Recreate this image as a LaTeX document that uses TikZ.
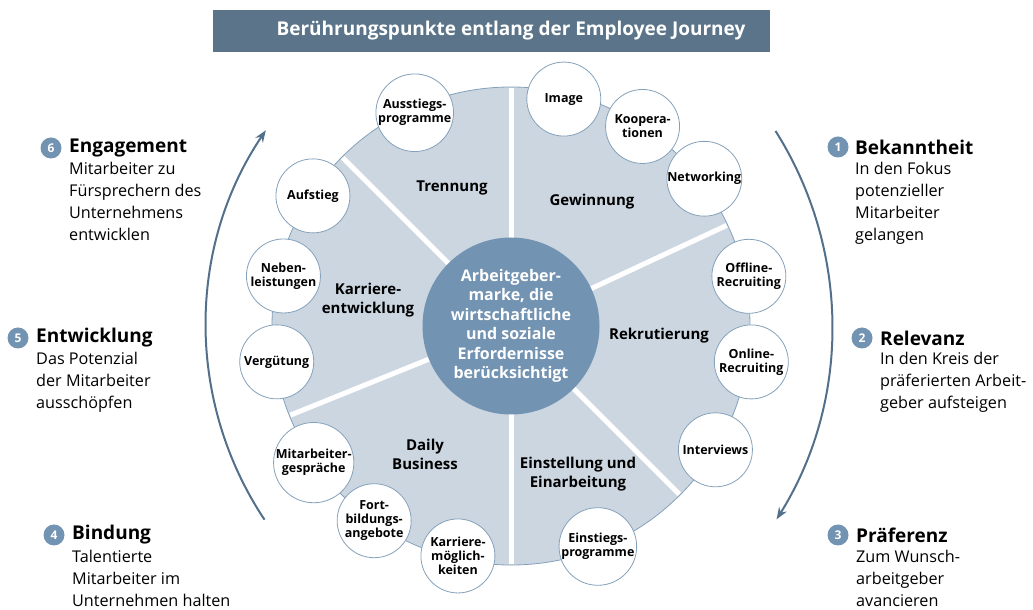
\documentclass[tikz,border=0pt]{standalone}
\usepackage{fontspec}
\setmainfont{Open Sans}
\usetikzlibrary{arrows.meta,positioning}
\definecolor{barblue}{HTML}{5B7489}
\definecolor{discblue}{HTML}{CBD6E1}
\definecolor{hubblue}{HTML}{7293B2}
\definecolor{rimblue}{HTML}{85A1BA}
\definecolor{arcblue}{HTML}{52708A}
\begin{document}
\begin{tikzpicture}[x=1pt,y=1pt,
    touch/.style={circle,draw=rimblue,fill=white,line width=0.8pt,minimum size=74pt,inner sep=0pt,align=center,font=\bfseries\fontsize{12.5}{14}\selectfont},
    phase/.style={align=center,font=\bfseries\fontsize{15}{19}\selectfont},
    divider/.style={draw=white,line width=5pt},
    badge/.style={circle,fill=hubblue,text=white,minimum size=21pt,inner sep=0pt,font=\bfseries\fontsize{12}{12}\selectfont},
    stagehead/.style={anchor=west,inner sep=0pt,font=\bfseries\fontsize{19}{22}\selectfont},
    stagetext/.style={anchor=north west,inner sep=0pt,align=left,font=\fontsize{16.2}{22}\selectfont},
    journey/.style={draw=arcblue,line width=2pt,-{Stealth[length=12pt,width=9pt]}}]
  \useasboundingbox (0,0) rectangle (1033,610);

  % title
  \node[fill=barblue,minimum width=557pt,minimum height=42pt,inner sep=0pt] (bar) at (491.5,579) {};
  \node[text=white,font=\bfseries\fontsize{19}{22}\selectfont] (title) at (511,579) {Berührungspunkte entlang der Employee Journey};

  % disc and sectors
  \coordinate (hubc) at (511,284);
  \fill[discblue,draw=rimblue,line width=0.8pt] (hubc) circle[radius=239];
  \foreach \a in {90,25,-45,-90,202,135}
    \draw[divider] (hubc) -- ++(\a:238);
  \node[circle,fill=hubblue,minimum size=177pt,inner sep=0pt,text=white,align=center,
        font=\bfseries\fontsize{16}{19.5}\selectfont] (hub) at (hubc)
    {Arbeitgeber-\\marke, die\\wirtschaftliche\\und soziale\\Erfordernisse\\berücksichtigt};

  \begin{scope}[every node/.style={phase}]
    \node (trennung) at (452,422) {Trennung};
    \node (gewinnung) at (592,408) {Gewinnung};
    \node (karriere) at (368,310) {Karriere-\\entwicklung};
    \node (rekrutierung) at (659,274) {Rekrutierung};
    \node (daily) at (425,156) {Daily\\Business};
    \node (einstellung) at (578,136) {Einstellung und\\Einarbeitung};
  \end{scope}

  % touchpoints
  \begin{scope}[shift={(511,284)},every node/.style={touch}]
    \node (ausstieg) at (114.3:234) {Ausstiegs-\\programme};
    \node (image) at (76.9:233) {Image};
    \node (koop) at (56.6:239) {Koopera-\\tionen};
    \node (network) at (37.3:243) {Networking};
    \node (offline) at (11.8:243) {Offline-\\Recruiting};
    \node (online) at (-8.5:243) {Online-\\Recruiting};
    \node (interview) at (-31.2:239) {Interviews};
    \node (einstieg) at (-68.5:237) {Einstiegs-\\programme};
    \node (moeglich) at (257:236) {Karriere-\\möglich-\\keiten};
    \node (fortbild) at (234.9:238) {Fort-\\bildungs-\\angebote};
    \node (gespraech) at (214.7:240) {Mitarbeiter-\\gespräche};
    \node (verguetung) at (188.7:237) {Vergütung};
    \node (neben) at (167.6:233) {Neben-\\leistungen};
    \node (aufstieg) at (146.7:237) {Aufstieg};
  \end{scope}

  % journey arcs
  \coordinate (leftpivot) at (556,284);
  \coordinate (rightpivot) at (467,284);
  \draw[journey] (leftpivot) ++(213.6:350) arc[start angle=213.6,end angle=146,radius=350];
  \draw[journey] (rightpivot) ++(32.3:365) arc[start angle=32.3,end angle=-32,radius=365];

  % stages, left
  \node[badge] (b6) at (51,462) {6};
  \node[stagehead] (engagement) at (69,462) {Engagement};
  \node[stagetext] (engagementtxt) at (69,448) {Mitarbeiter zu\\Fürsprechern des\\Unternehmens\\entwicklen};
  \node[badge] (b5) at (18,272) {5};
  \node[stagehead] (entwicklung) at (36,272) {Entwicklung};
  \node[stagetext] (entwicklungtxt) at (36,258) {Das Potenzial\\der Mitarbeiter\\ausschöpfen};
  \node[badge] (b4) at (54,75) {4};
  \node[stagehead] (bindung) at (72,75) {Bindung};
  \node[stagetext] (bindungtxt) at (72,60) {Talentierte\\Mitarbeiter im\\Unternehmen halten};

  % stages, right
  \node[badge] (b1) at (838,463) {1};
  \node[stagehead] (bekanntheit) at (855,463) {Bekanntheit};
  \node[stagetext] (bekanntheittxt) at (855,448) {In den Fokus\\potenzieller\\Mitarbeiter\\gelangen};
  \node[badge] (b2) at (862,272) {2};
  \node[stagehead] (relevanz) at (880,272) {Relevanz};
  \node[stagetext] (relevanztxt) at (880,258) {In den Kreis der\\präferierten Arbeit-\\geber aufsteigen};
  \node[badge] (b3) at (838,75) {3};
  \node[stagehead] (praeferenz) at (856,75) {Präferenz};
  \node[stagetext] (praeferenztxt) at (856,60) {Zum Wunsch-\\arbeitgeber\\avancieren};
\end{tikzpicture}
\end{document}
